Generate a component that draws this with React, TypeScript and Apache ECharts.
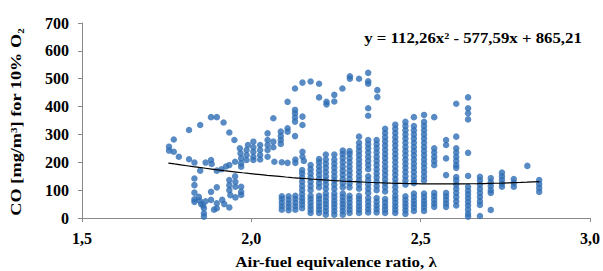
import React, { useEffect, useRef } from "react";
import * as echarts from "echarts";

const xTickLabels = ["1,5", "2,0", "2,5", "3,0"];
const yTickLabels = ["0", "100", "200", "300", "400", "500", "600", "700"];
const trendCoefficients = [112.26, -577.59, 865.21];
const trendRange = [1.755, 2.85];
const equationText = "y = 112,26x\u00b2 - 577,59x + 865,21";
const xTitle = "Air-fuel equivalence ratio, \u03bb";
const yTitle = "CO [mg/m\u00b3] for 10% O\u2082";

// scattered loop points [lambda, CO]
const loopPoints: [number, number][] = [
  [1.757, 256], [1.757, 242], [1.771, 282], [1.771, 238], [1.786, 220],
  [1.816, 316], [1.816, 211], [1.832, 199], [1.849, 334], [1.849, 170],
  [1.881, 362], [1.898, 362], [1.918, 343], [1.935, 307], [1.95, 280],
  [1.966, 250], [1.968, 232], [1.97, 214], [1.97, 196], [1.97, 184],
  [1.865, 199], [1.881, 208], [1.883, 194], [1.898, 170], [1.912, 175],
  [1.925, 185], [1.935, 190], [1.952, 202],
  [1.832, 142], [1.832, 118], [1.832, 91], [1.832, 67], [1.832, 58],
  [1.845, 76], [1.848, 62], [1.852, 50], [1.858, 45], [1.86, 35], [1.86, 17], [1.86, 5], [1.865, 60],
  [1.881, 94], [1.898, 110], [1.881, 65], [1.898, 53], [1.914, 65], [1.898, 35], [1.89, 30],
  [1.935, 136], [1.935, 118], [1.935, 100], [1.938, 82], [1.935, 38], [1.92, 50],
  [1.952, 150], [1.953, 130], [1.953, 112], [1.953, 74],
  [1.97, 112], [1.97, 94], [1.97, 83],
  [1.986, 244], [1.986, 226], [1.986, 208], [1.99, 262],
  [2.006, 274], [2.006, 254], [2.006, 238], [2.006, 220], [2.006, 208],
  [2.026, 262], [2.026, 244], [2.026, 226], [2.026, 210],
  [2.048, 304], [2.048, 280], [2.048, 262], [2.048, 244], [2.048, 220],
  [2.065, 358], [2.065, 274], [2.065, 254], [2.068, 202],
  [2.087, 310], [2.087, 294], [2.087, 280], [2.087, 266], [2.09, 200],
  [2.107, 417], [2.107, 322], [2.107, 310], [2.107, 198],
  [2.129, 465], [2.129, 388], [2.129, 376], [2.129, 361], [2.129, 346], [2.129, 294], [2.13, 210], [2.13, 198],
  [2.151, 486], [2.151, 364], [2.151, 334], [2.151, 238], [2.151, 220], [2.155, 205],
  [2.175, 490], [2.2, 482], [2.2, 433], [2.222, 417], [2.222, 408], [2.245, 442], [2.245, 418],
  [2.269, 465], [2.291, 509], [2.291, 500], [2.318, 500], [2.345, 521], [2.345, 491], [2.345, 482],
  [2.345, 394], [2.345, 367], [2.372, 459], [2.372, 434],
];

// vertical stripes of measurements at fixed lambda
const columnLambdas = [
  2.09, 2.11, 2.13, 2.15, 2.175, 2.2, 2.22, 2.245, 2.27, 2.29, 2.318, 2.345, 2.37, 2.395,
  2.425, 2.455, 2.48, 2.51, 2.54, 2.575, 2.605, 2.64, 2.675, 2.707, 2.74, 2.775, 2.815, 2.85,
];
const columnValues: number[][] = [
  [30, 42, 55, 68, 78],
  [28, 40, 52, 65, 78],
  [30, 42, 55, 68, 80],
  [35, 48, 60, 72, 85, 100, 115, 130, 145, 160, 172],
  [18, 30, 42, 55, 68, 80, 100, 115, 130, 145, 160, 175, 190],
  [18, 30, 42, 55, 68, 80, 110, 125, 140, 155, 170, 185, 200, 212],
  [12, 25, 38, 50, 62, 75, 88, 105, 120, 135, 150, 165, 180, 195, 210, 228],
  [12, 25, 38, 50, 62, 75, 88, 105, 120, 135, 150, 165, 180, 195, 210, 228],
  [12, 25, 38, 50, 62, 75, 88, 110, 125, 140, 155, 170, 185, 200, 215, 230, 242],
  [18, 30, 42, 55, 68, 80, 110, 125, 140, 155, 170, 185, 200, 215, 230, 240],
  [18, 30, 42, 55, 68, 80, 105, 120, 135, 150, 165, 180, 195, 210, 225, 240, 255, 270, 292],
  [20, 32, 45, 58, 72, 90, 105, 120, 135, 150, 175, 190, 205, 220, 235, 250, 265, 280],
  [20, 32, 45, 58, 72, 100, 115, 130, 145, 160, 175, 190, 205, 220, 235, 250, 265, 280],
  [18, 30, 42, 55, 68, 95, 110, 125, 140, 155, 170, 185, 200, 215, 230, 245, 260, 275, 290, 305, 320],
  [18, 30, 42, 55, 68, 80, 95, 110, 125, 140, 155, 170, 185, 200, 215, 230, 245, 260, 275, 290, 305, 320, 335],
  [15, 28, 40, 52, 65, 78, 120, 135, 150, 165, 180, 195, 210, 225, 240, 255, 270, 285, 300, 315, 330, 345],
  [25, 38, 50, 62, 75, 88, 125, 135, 150, 165, 180, 195, 210, 225, 240, 255, 270, 285, 300, 315, 330, 362],
  [25, 38, 50, 62, 75, 88, 135, 150, 165, 180, 195, 210, 225, 240, 255, 270, 285, 300, 315, 330, 345, 370],
  [40, 52, 65, 78, 90, 190, 205, 220, 235, 250, 362],
  [40, 52, 65, 78, 90, 154, 214, 262, 280],
  [45, 60, 75, 90, 105, 120, 135, 147, 180, 190, 205, 220, 235, 250, 292, 410],
  [5, 15, 30, 45, 58, 72, 85, 98, 112, 151, 234, 354, 376, 394, 433],
  [7, 47, 60, 75, 90, 105, 120, 135, 148],
  [29, 90, 100, 115, 128, 143],
  [112, 124, 137, 150, 163],
  [112, 126, 140],
  [187],
  [94, 108, 122, 136],
];

const FONT = "'Liberation Serif', 'Times New Roman', serif";

export default function App() {
  const ref = useRef<HTMLDivElement>(null);
  useEffect(() => {
    if (!ref.current) return;
    const chart = echarts.init(ref.current, null, { renderer: "svg" });
    const scatterData: [number, number][] = [...loopPoints];
    columnLambdas.forEach((lx, i) => {
      columnValues[i].forEach((v) => scatterData.push([lx, v]));
    });
    const [a, b, c] = trendCoefficients;
    const trendData: [number, number][] = [];
    const steps = 60;
    for (let i = 0; i <= steps; i++) {
      const x = trendRange[0] + ((trendRange[1] - trendRange[0]) * i) / steps;
      trendData.push([x, a * x * x + b * x + c]);
    }
    const axisLabelStyle = {
      color: "#000",
      fontFamily: FONT,
      fontWeight: "bold" as const,
      fontSize: 16,
    };
    chart.setOption({
      animation: false,
      grid: { left: 82, right: 10, top: 23, bottom: 53 },
      xAxis: {
        type: "value",
        min: 1.5,
        max: 3.0,
        interval: 0.5,
        axisLine: { show: true, lineStyle: { color: "#898989", width: 1 } },
        axisTick: { show: true, length: 4, lineStyle: { color: "#898989" } },
        splitLine: { show: false },
        axisLabel: {
          ...axisLabelStyle,
          margin: 12,
          formatter: (v: number) => xTickLabels[Math.round((v - 1.5) / 0.5)] ?? "",
        },
      },
      yAxis: {
        type: "value",
        min: 0,
        max: 700,
        interval: 100,
        axisLine: { show: true, lineStyle: { color: "#898989", width: 1 } },
        axisTick: { show: true, length: 4, lineStyle: { color: "#898989" } },
        splitLine: { show: false },
        axisLabel: {
          ...axisLabelStyle,
          margin: 13,
          formatter: (v: number) => yTickLabels[Math.round(v / 100)] ?? "",
        },
      },
      series: [
        {
          type: "scatter",
          data: scatterData,
          symbol: "circle",
          symbolSize: 6.5,
          itemStyle: { color: "#2E6DB4" },
          z: 2,
        },
        {
          type: "line",
          data: trendData,
          showSymbol: false,
          lineStyle: { color: "#000", width: 1.2 },
          z: 3,
        },
      ],
      graphic: [
        {
          type: "text",
          x: 16,
          y: 122,
          rotation: Math.PI / 2,
          scaleX: 1.22,
          style: {
            text: yTitle,
            fill: "#000",
            font: `bold 15px ${FONT}`,
            align: "center",
            verticalAlign: "middle",
          },
        },
        {
          type: "text",
          x: 336,
          y: 262,
          scaleX: 1.13,
          style: {
            text: xTitle,
            fill: "#000",
            font: `bold 15px ${FONT}`,
            align: "center",
            verticalAlign: "middle",
          },
        },
        {
          type: "text",
          x: 473,
          y: 38,
          scaleX: 1.12,
          style: {
            text: equationText,
            fill: "#000",
            font: `bold 15px ${FONT}`,
            align: "center",
            verticalAlign: "middle",
          },
        },
      ],
    });
    return () => chart.dispose();
  }, []);
  return (
    <div
      ref={ref}
      style={{ position: "absolute", left: 0, top: 0, width: 603, height: 271 }}
    />
  );
}
